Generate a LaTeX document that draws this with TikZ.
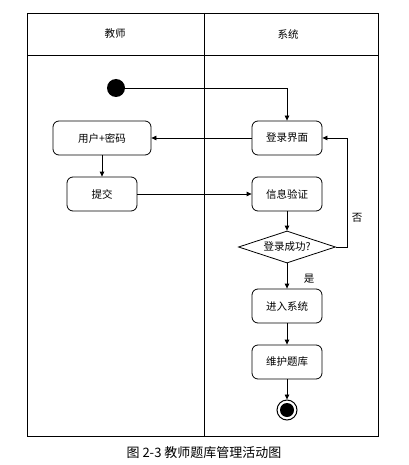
\documentclass[tikz,border=0pt]{standalone}
\usepackage{fontspec}
\setmainfont{Noto Sans CJK SC}
\usetikzlibrary{arrows.meta,shapes.geometric}
\begin{document}
\begin{tikzpicture}[x=1pt,y=-1pt,
  line width=0.8pt,
  act/.style={draw,rounded corners=6pt,minimum height=34pt,font=\fontsize{10.5}{12}\selectfont,inner sep=0pt},
  arr/.style={-{Triangle[length=5pt,width=4.5pt]}},
  lbl/.style={font=\fontsize{10.5}{12}\selectfont}]
\useasboundingbox (0,0) rectangle (408,465);
% swimlanes
\draw (27,13) rectangle (378,436);
\draw (27,55) -- (378,55);
\draw (204,13) -- (204,436);
\node[lbl] (h1) at (115,34) {教师};
\node[lbl] (h2) at (288,34) {系统};
% nodes
\node[circle,fill=black,minimum size=18pt,inner sep=0pt] (start) at (116,88) {};
\node[act,minimum width=70pt] (login) at (287,138) {登录界面};
\node[act,minimum width=98pt] (user) at (102,138) {用户+密码};
\node[act,minimum width=70pt] (submit) at (102,194) {提交};
\node[act,minimum width=70pt] (verify) at (287,194) {信息验证};
\node[diamond,draw,aspect=3,minimum width=97pt,minimum height=32pt,inner sep=0pt,font=\fontsize{10.5}{12}\selectfont] (ok) at (287,247) {登录成功?};
\node[act,minimum width=70pt] (enter) at (287,306) {进入系统};
\node[act,minimum width=70pt] (maint) at (287,362) {维护题库};
\node[circle,draw,line width=1pt,minimum size=20pt,inner sep=0pt] (end) at (287,410) {};
\fill (end.center) circle (7pt);
\coordinate (c1) at (login.north |- start);
\coordinate (c2) at (347,247);
\coordinate (c3) at (347,138);
% connectors
\draw[arr] (start) -- (c1) -- (login.north);
\draw[arr] (login) -- (user);
\draw[arr] (user) -- (submit);
\draw[arr] (submit) -- (verify);
\draw[arr] (verify) -- (ok);
\draw[arr] (ok.east) -- (c2) -- (c3) -- (login.east);
\draw[arr] (ok) -- (enter);
\draw[arr] (enter) -- (maint);
\draw[arr] (maint) -- (end);
\node[lbl] (no) at (357,218) {否};
\node[lbl] (yes) at (309,279) {是};
\node[font=\fontsize{13}{15}\selectfont] (cap) at (204,453) {图 2-3 教师题库管理活动图};
\end{tikzpicture}
\end{document}
